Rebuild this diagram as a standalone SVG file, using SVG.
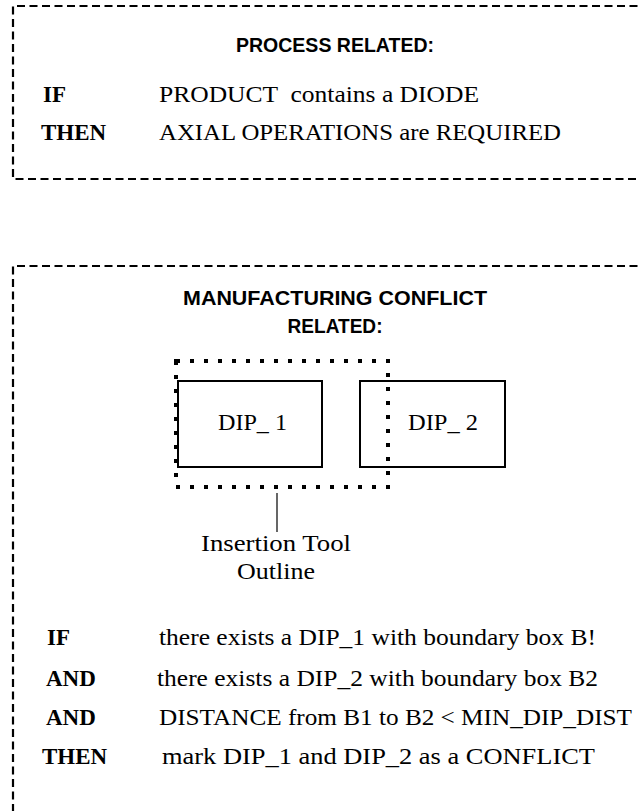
<svg xmlns="http://www.w3.org/2000/svg" width="639" height="811" viewBox="0 0 639 811">
<style>
.frame{fill:none;stroke:#000;stroke-width:2.2;stroke-dasharray:8 4.5}
.dot{fill:none;stroke:#000;stroke-width:4;stroke-dasharray:4 10}
.chip{fill:#fff;stroke:#000;stroke-width:2}
.hd{font-family:"Liberation Sans",Arial,sans-serif;font-weight:bold;font-size:21px;fill:#000;text-anchor:middle}
.kw{font-family:"Liberation Serif","Times New Roman",serif;font-weight:bold;font-size:23px;fill:#000}
.tx{font-family:"Liberation Serif","Times New Roman",serif;font-size:24px;fill:#000}
.lead{stroke:#000;stroke-width:1.2;fill:none}
</style>
<rect width="639" height="811" fill="#fff"/>
<g id="process-rule">
<path class="frame" d="M650 6H13V179H650"/>
<text class="hd" x="335" y="52" textLength="198" lengthAdjust="spacingAndGlyphs">PROCESS RELATED:</text>
<text class="kw" x="43" y="102">IF</text>
<text class="tx" x="159" y="102" textLength="320" lengthAdjust="spacingAndGlyphs" xml:space="preserve">PRODUCT  contains a DIODE</text>
<text class="kw" x="41" y="140">THEN</text>
<text class="tx" x="159" y="140" textLength="402" lengthAdjust="spacingAndGlyphs">AXIAL OPERATIONS are REQUIRED</text>
</g>
<g id="conflict-rule">
<path class="frame" d="M650 266H13V830"/>
<text class="hd" x="335" y="305" textLength="304" lengthAdjust="spacingAndGlyphs">MANUFACTURING CONFLICT</text>
<text class="hd" x="335" y="333" textLength="95" lengthAdjust="spacingAndGlyphs">RELATED:</text>
</g>
<g id="dip1">
<rect class="chip" x="178" y="381" width="144" height="86"/>
<text class="tx" x="218" y="430" textLength="69" lengthAdjust="spacingAndGlyphs">DIP_ 1</text>
</g>
<g id="dip2">
<rect class="chip" x="360" y="381" width="145" height="86"/>
<text class="tx" x="408" y="430" textLength="70" lengthAdjust="spacingAndGlyphs">DIP_ 2</text>
</g>
<g id="insertion-tool">
<rect class="dot" x="176" y="361" width="212" height="126"/>
<text class="tx" x="276" y="551" text-anchor="middle" textLength="150" lengthAdjust="spacingAndGlyphs">Insertion Tool</text>
<text class="tx" x="276" y="579" text-anchor="middle" textLength="78" lengthAdjust="spacingAndGlyphs">Outline</text>
</g>
<g id="connectors">
<line class="lead" x1="277" y1="493" x2="277" y2="532"/>
</g>
<g id="conflict-conditions">
<text class="kw" x="47" y="645">IF</text>
<text class="tx" x="159" y="645" textLength="437" lengthAdjust="spacingAndGlyphs">there exists a DIP_1 with boundary box B!</text>
<text class="kw" x="46" y="686">AND</text>
<text class="tx" x="157" y="686" textLength="441" lengthAdjust="spacingAndGlyphs">there exists a DIP_2 with boundary box B2</text>
<text class="kw" x="46" y="725">AND</text>
<text class="tx" x="159" y="725" textLength="473" lengthAdjust="spacingAndGlyphs">DISTANCE from B1 to B2 &lt; MIN_DIP_DIST</text>
<text class="kw" x="42" y="764">THEN</text>
<text class="tx" x="162" y="764" textLength="433" lengthAdjust="spacingAndGlyphs">mark DIP_1 and DIP_2 as a CONFLICT</text>
</g>
</svg>
